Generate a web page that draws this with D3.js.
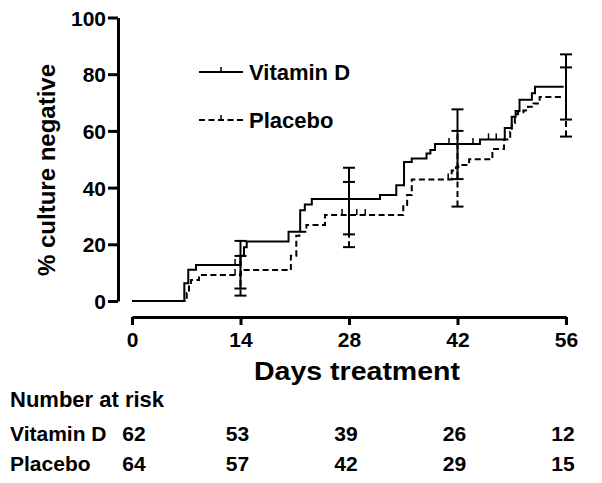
<!DOCTYPE html>
<html><head><meta charset="utf-8">
<script src="https://cdn.jsdelivr.net/npm/d3@7"></script>
<style>
body{margin:0;background:#fff;}
text{font-family:"Liberation Sans",Arial,sans-serif;font-weight:bold;fill:#000;}
</style></head>
<body><svg id="c" width="602" height="483"></svg>
<script>
// ---- data ----
const vitDays = [0, 6.75, 7.26, 8.26, 14.0, 14.45, 14.8, 20.2, 21.7, 22.3, 23.2, 32.0, 34.1, 35.1, 36.1, 38.0, 38.5, 39.1, 44.9, 48.1, 49.0, 49.5, 50.0, 51.6, 52.0, 55.7];
const vitVals = [0, 6.3, 11, 12.7, 16, 19, 21, 24.4, 32, 34, 36, 37.4, 40.8, 49, 50.3, 52, 53.3, 55.4, 57, 61, 65, 67, 71, 73.3, 75.6, 75.6];
const plaDays = [0, 7.06, 7.35, 7.6, 8.65, 14.06, 20.5, 21.2, 21.6, 22.5, 24.9, 35.0, 35.5, 36.1, 41.25, 41.8, 42.1, 43.5, 46.5, 48.0, 48.8, 49.0, 49.4, 49.8, 50.5, 51.1, 51.8, 52.6, 55.7];
const plaVals = [0, 2.8, 5.6, 7.4, 9.2, 10.9, 16, 23, 24.4, 26.8, 30.3, 33.9, 37.4, 42.9, 46, 47.2, 48, 50, 53.6, 57, 59.7, 62.8, 65.9, 66.6, 67.2, 68.5, 69.7, 72, 72];
const vitCensor = [13.3, 40.9, 44.0, 46.0, 47.0];
const plaCensor = [13.3, 27.1, 28.0, 29.0, 30.1, 40.8];
const errDays = [14, 28, 42, 56];
const vitLow = [4.4, 23.5, 43, 64];
const vitHigh = [21.2, 47, 67.6, 87];
const plaLow = [1.9, 19, 33.3, 58];
const plaHigh = [15.9, 42, 60, 82.4];
const xTicks = [0, 14, 28, 42, 56];
const yTicks = [0, 20, 40, 60, 80, 100];
const riskDays = [0, 14, 28, 42, 56];
const vitRisk = [62, 53, 39, 26, 12];
const plaRisk = [64, 57, 42, 29, 15];
const seriesNames = ["Vitamin D", "Placebo"];

// ---- chart ----
const svg = d3.select("#c");
const x = d3.scaleLinear().domain([0, 56]).range([132, 566]);
const y = d3.scaleLinear().domain([0, 100]).range([301, 17.5]);
const DASH = "6,3.5";

// axes
const gx = svg.append("g").attr("transform", "translate(0,317)")
  .call(d3.axisBottom(x).tickValues(xTicks).tickSize(8).tickSizeOuter(0).tickPadding(7));
const gy = svg.append("g").attr("transform", "translate(118,0)")
  .call(d3.axisLeft(y).tickValues(yTicks).tickSize(10).tickSizeOuter(0).tickPadding(2));
[gx, gy].forEach(g => {
  g.select(".domain").attr("stroke", "#000").attr("stroke-width", 3);
  g.selectAll(".tick line").attr("stroke", "#000").attr("stroke-width", 3);
  g.selectAll(".tick text").style("font-size", "21px").style("font-family", '"Liberation Sans",Arial,sans-serif').style("font-weight", "bold").attr("fill", "#000");
});
gy.selectAll(".tick text").attr("dy", "0.36em");

svg.append("text").attr("x", 357).attr("y", 380).attr("text-anchor", "middle")
  .style("font-size", "25px").attr("textLength", 206).attr("lengthAdjust", "spacingAndGlyphs").text("Days treatment");
svg.append("text").attr("transform", "translate(55,170) rotate(-90)").attr("text-anchor", "middle")
  .style("font-size", "24px").text("% culture negative");

// curves
const line = d3.line().x(d => x(d[0])).y(d => y(d[1])).curve(d3.curveStepAfter);
const vit = vitDays.map((d, i) => [d, vitVals[i]]);
const pla = plaDays.map((d, i) => [d, plaVals[i]]);
svg.append("path").attr("d", line(vit)).attr("fill", "none").attr("stroke", "#000").attr("stroke-width", 2);
svg.append("path").attr("d", line(pla)).attr("fill", "none").attr("stroke", "#000").attr("stroke-width", 2).attr("stroke-dasharray", DASH);

function valAt(days, vals, t) {
  let v = 0;
  for (let i = 0; i < days.length; i++) if (days[i] <= t) v = vals[i];
  return v;
}
svg.selectAll(".cv").data(vitCensor).enter().append("line")
  .attr("x1", d => x(d)).attr("x2", d => x(d))
  .attr("y1", d => y(valAt(vitDays, vitVals, d))).attr("y2", d => y(valAt(vitDays, vitVals, d)) - 6)
  .attr("stroke", "#000").attr("stroke-width", 1.5);
svg.selectAll(".cp").data(plaCensor).enter().append("line")
  .attr("x1", d => x(d)).attr("x2", d => x(d))
  .attr("y1", d => y(valAt(plaDays, plaVals, d))).attr("y2", d => y(valAt(plaDays, plaVals, d)) - 6)
  .attr("stroke", "#000").attr("stroke-width", 1.5);

// error bars
function errBars(lo, hi, dash) {
  const g = svg.append("g").attr("stroke", "#000").attr("stroke-width", 2);
  errDays.forEach((d, i) => {
    g.append("line").attr("x1", x(d)).attr("x2", x(d)).attr("y1", y(lo[i])).attr("y2", y(hi[i]))
      .attr("stroke-dasharray", dash || null);
    [lo[i], hi[i]].forEach(v => g.append("line").attr("x1", x(d) - 6).attr("x2", x(d) + 6)
      .attr("y1", y(v)).attr("y2", y(v)));
  });
}
errBars(vitLow, vitHigh, null);
errBars(plaLow, plaHigh, DASH);

// legend
const leg = [[72, null], [120, DASH]];
leg.forEach((l, i) => {
  const g = svg.append("g");
  g.append("line").attr("x1", 199).attr("x2", 243).attr("y1", l[0]).attr("y2", l[0])
    .attr("stroke", "#000").attr("stroke-width", 2).attr("stroke-dasharray", l[1]);
  g.append("line").attr("x1", 221).attr("x2", 221).attr("y1", l[0]).attr("y2", l[0] - 5)
    .attr("stroke", "#000").attr("stroke-width", 1.5);
  g.append("text").attr("x", 249).attr("y", l[0] + 8).style("font-size", "22px").text(seriesNames[i]);
});

// number at risk
svg.append("text").attr("x", 10).attr("y", 407).style("font-size", "22px").text("Number at risk");
const rows = [[vitRisk, 441], [plaRisk, 471]];
rows.forEach((r, i) => {
  svg.append("text").attr("x", 10).attr("y", r[1]).style("font-size", "21px").text(seriesNames[i]);
  svg.selectAll(".r" + i).data(r[0]).enter().append("text")
    .attr("x", (d, j) => x(riskDays[j]) + (j === 0 ? 2 : -3)).attr("y", r[1]).attr("text-anchor", "middle")
    .style("font-size", "21px").text(d => d);
});
</script></body></html>
